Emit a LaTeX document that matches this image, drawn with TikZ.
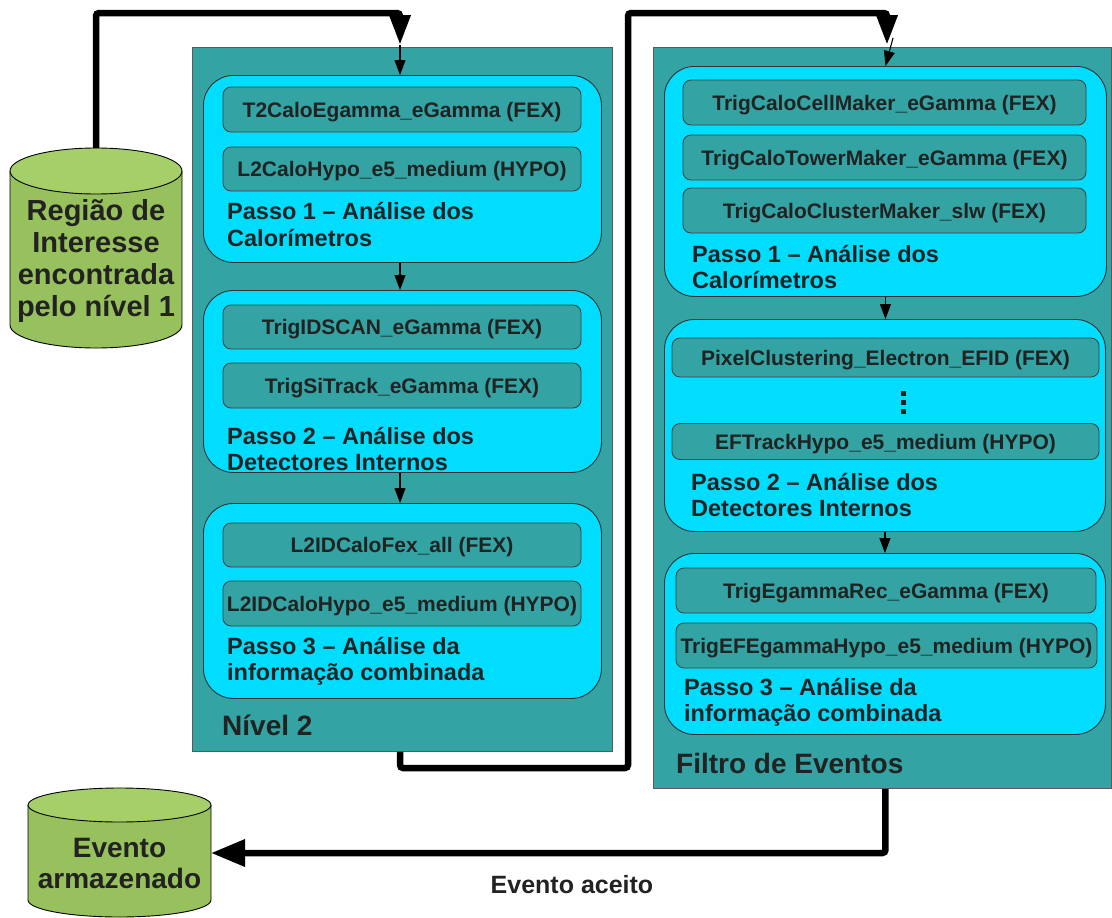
\documentclass[tikz,border=0pt]{standalone}
\usepackage{fontspec}
\setmainfont{Liberation Sans}
\usetikzlibrary{arrows.meta}
\definecolor{panel}{HTML}{33A3A3}
\definecolor{stage}{HTML}{00DDFF}
\definecolor{ink}{HTML}{222222}
\definecolor{cylbody}{HTML}{97C15C}
\definecolor{cyltop}{HTML}{A5CF68}
\newcommand{\stacktext}[2]{\begin{tabular}[t]{@{}#1@{}}#2\end{tabular}}
\begin{document}
\begin{tikzpicture}[x=1pt,y=-1pt,
  panelbox/.style={draw=black!65, line width=0.8pt, fill=panel, anchor=north west, inner sep=0pt},
  stagebox/.style={draw=black!80, line width=0.9pt, fill=stage, rounded corners=30pt, anchor=north west, inner sep=0pt},
  algbox/.style={draw=black!75, line width=0.8pt, fill=panel, rounded corners=8pt, inner sep=0pt,
    text height=20pt, text depth=5pt,
    text=ink, font=\fontsize{21}{24}\selectfont\bfseries},
  steplabel/.style={anchor=base west, inner sep=0pt, text=ink, font=\fontsize{23.5}{26.5}\selectfont\bfseries},
  tierlabel/.style={anchor=base west, inner sep=0pt, text=ink, font=\fontsize{28}{31}\selectfont\bfseries},
  cyltext/.style={anchor=base, inner sep=0pt, text=ink, font=\fontsize{29}{32}\selectfont\bfseries},
  link/.style={line width=1.1pt, -{Triangle[length=15pt,width=11pt]}},
  flow/.style={line width=6.5pt, rounded corners=3pt, -{Triangle[length=30pt,width=20pt]}},
  flowwide/.style={line width=6.5pt, rounded corners=3pt, -{Triangle[length=34pt,width=26pt]}},
]
\useasboundingbox (0,0) rectangle (1112,918);

% ---------- storage cylinders ----------
% region of interest (level 1)
\fill[cylbody] (10,171) -- (10,325) arc[start angle=180,end angle=360,x radius=86pt,y radius=23pt] -- (182,171) -- cycle;
\draw[line width=0.9pt] (10,171) -- (10,325) arc[start angle=180,end angle=360,x radius=86pt,y radius=23pt] -- (182,171);
\filldraw[fill=cyltop, line width=0.9pt] (96,171) ellipse[x radius=86pt, y radius=23pt];
\node[cyltext] (roi) at (96,220) {\stacktext{c}{Região de\\Interesse\\encontrada\\pelo nível 1}};
\coordinate (roitop) at (96,148);

% accepted-event store
\fill[cylbody] (28,805) -- (28,900) arc[start angle=180,end angle=360,x radius=91.5pt,y radius=17pt] -- (211,805) -- cycle;
\draw[line width=0.9pt] (28,805) -- (28,900) arc[start angle=180,end angle=360,x radius=91.5pt,y radius=17pt] -- (211,805);
\filldraw[fill=cyltop, line width=0.9pt] (119.5,805) ellipse[x radius=91.5pt, y radius=17pt];
\node[cyltext, font=\fontsize{28}{31}\selectfont\bfseries] (store) at (119.5,857) {\stacktext{c}{Evento\\armazenado}};
\coordinate (storeR) at (211,853);

% ---------- Level 2 ----------
\node[panelbox, minimum width=420pt, minimum height=704pt] (lvl2) at (192,47) {};
\node[stagebox, minimum width=398pt, minimum height=187pt] (L1) at (203,75) {};
\node[stagebox, minimum width=398pt, minimum height=182pt] (L2) at (203,290) {};
\node[stagebox, minimum width=398pt, minimum height=195pt] (L3) at (203,503) {};

\node[algbox, minimum width=358pt, minimum height=45pt] (a1) at (402,109.5) {T2CaloEgamma\_eGamma (FEX)};
\node[algbox, minimum width=358pt, minimum height=44pt] (a2) at (402,169) {L2CaloHypo\_e5\_medium (HYPO)};
\node[steplabel] (L1t) at (227,219.5) {\stacktext{l}{Passo 1 – Análise dos\\Calorímetros}};

\node[algbox, minimum width=358pt, minimum height=44pt] (b1) at (402,327) {TrigIDSCAN\_eGamma (FEX)};
\node[algbox, minimum width=358pt, minimum height=45pt] (b2) at (402,385.5) {TrigSiTrack\_eGamma (FEX)};
\node[steplabel] (L2t) at (227,444) {\stacktext{l}{Passo 2 – Análise dos\\Detectores Internos}};

\node[algbox, minimum width=358pt, minimum height=44pt] (c1) at (402,545) {L2IDCaloFex\_all (FEX)};
\node[algbox, minimum width=358pt, minimum height=45pt] (c2) at (402,603.5) {L2IDCaloHypo\_e5\_medium (HYPO)};
\node[steplabel] (L3t) at (227,654) {\stacktext{l}{Passo 3 – Análise da\\informação combinada}};

\node[tierlabel] (lvl2t) at (222,735) {Nível 2};

% ---------- Event Filter ----------
\node[panelbox, minimum width=458pt, minimum height=741pt] (ef) at (653,47) {};
\node[stagebox, minimum width=442pt, minimum height=230pt] (R1) at (664,66) {};
\node[stagebox, minimum width=441pt, minimum height=212pt] (R2) at (664,319) {};
\node[stagebox, minimum width=441pt, minimum height=181pt] (R3) at (664,553) {};

\node[algbox, minimum width=403pt, minimum height=45pt] (d1) at (884.5,102.5) {TrigCaloCellMaker\_eGamma (FEX)};
\node[algbox, minimum width=403pt, minimum height=45pt] (d2) at (884.5,157.5) {TrigCaloTowerMaker\_eGamma (FEX)};
\node[algbox, minimum width=403pt, minimum height=45pt] (d3) at (884.5,210.5) {TrigCaloClusterMaker\_slw (FEX)};
\node[steplabel] (R1t) at (692,262) {\stacktext{l}{Passo 1 – Análise dos\\Calorímetros}};

\node[algbox, minimum width=427pt, minimum height=39pt] (e1) at (885.5,357.5) {PixelClustering\_Electron\_EFID (FEX)};
\fill[ink] (900.5,390.5) rectangle ++(5,5);
\fill[ink] (900.5,399.5) rectangle ++(5,5);
\fill[ink] (900.5,408.5) rectangle ++(5,5);
\node[algbox, minimum width=427pt, minimum height=36pt] (e2) at (885.5,441.5) {EFTrackHypo\_e5\_medium (HYPO)};
\node[steplabel] (R2t) at (691,490) {\stacktext{l}{Passo 2 – Análise dos\\Detectores Internos}};

\node[algbox, minimum width=420pt, minimum height=45pt] (f1) at (886,590.5) {TrigEgammaRec\_eGamma (FEX)};
\node[algbox, minimum width=421pt, minimum height=45pt] (f2) at (886.5,645.5) {TrigEFEgammaHypo\_e5\_medium (HYPO)};
\node[steplabel] (R3t) at (684,695) {\stacktext{l}{Passo 3 – Análise da\\informação combinada}};

\node[tierlabel] (eft) at (676,773) {Filtro de Eventos};

% ---------- connectors ----------
\coordinate (top1) at (400,13);
\coordinate (in1) at (400,45);
\draw[flow] (roitop) |- (top1) -- (in1);
\draw[link] (in1) -- (in1 |- L1.north);
\draw[link] (L1.south -| in1) -- (L2.north -| in1);
\draw[link] (L2.south -| in1) -- (L3.north -| in1);

\coordinate (lv2out) at (lvl2.south -| in1);
\coordinate (mid) at (628,768);
\coordinate (top2) at (887,13);
\coordinate (in2) at (887,45);
\draw[flow] (lv2out) |- (mid) |- (top2) -- (in2);
\coordinate (kink) at (893,38);
\draw[link] (kink) -- (R1.north);
\draw[link] (R1.south) -- (R1.south |- R2.north);
\draw[link] (R2.south) -- (R2.south |- R3.north);

\coordinate (efout) at (R1.south |- ef.south);
\draw[flowwide] (efout) |- (storeR);
\node[anchor=base, inner sep=0pt, text=ink, font=\fontsize{25}{28}\selectfont\bfseries] (acc) at (572,893) {Evento aceito};
\end{tikzpicture}
\end{document}
